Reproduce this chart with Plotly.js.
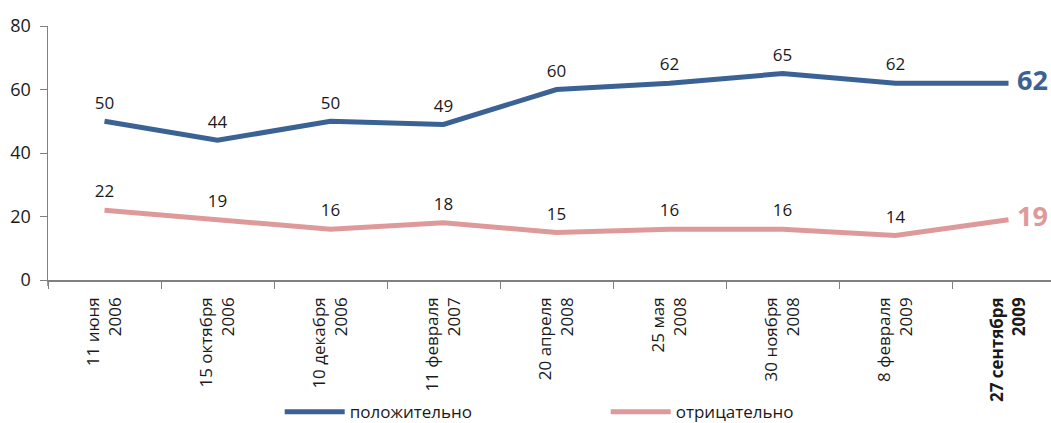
<!DOCTYPE html>
<html>
<head>
<meta charset="utf-8">
<script src="https://cdn.plot.ly/plotly-3.0.1.min.js"></script>
<style>html,body{margin:0;padding:0;background:#fff}#chart{width:1051px;height:423px}</style>
</head>
<body>
<div id="chart"></div>
<script>
var categories = ['11 июня<br>2006', '15 октября<br>2006', '10 декабря<br>2006', '11 февраля<br>2007', '20 апреля<br>2008', '25 мая<br>2008', '30 ноября<br>2008', '8 февраля<br>2009', '<b>27 сентября</b><br><b>2009</b>'];
var positive = [50, 44, 50, 49, 60, 62, 65, 62, 62];
var negative = [22, 19, 16, 18, 15, 16, 16, 14, 19];
var seriesNames = ['положительно', 'отрицательно'];
var yTicks = [0, 20, 40, 60, 80];

var BLUE = '#3a6295', PINK = '#de9a9a';
var FONT = 'Open Sans, sans-serif';

function labels(vals) {
  return vals.map(function (v, i) { return i === vals.length - 1 ? '<b>' + v + '</b>' : String(v); });
}
function positions(vals) {
  return vals.map(function (v, i) { return i === vals.length - 1 ? 'middle right' : 'top center'; });
}
function sizes(vals) {
  return vals.map(function (v, i) { return i === vals.length - 1 ? 27 : 17; });
}
function colors(vals, c) {
  return vals.map(function (v, i) { return i === vals.length - 1 ? c : '#1a1a1a'; });
}
function trace(vals, name, color) {
  return {
    x: categories, y: vals, name: name, type: 'scatter', mode: 'lines+markers+text',
    line: {color: color, width: 5},
    marker: {size: 12, color: 'rgba(0,0,0,0)'},
    text: labels(vals), textposition: positions(vals),
    textfont: {family: FONT, size: sizes(vals), color: colors(vals, color)},
    cliponaxis: false, hoverinfo: 'none'
  };
}

var data = [trace(positive, seriesNames[0], BLUE), trace(negative, seriesNames[1], PINK)];

var layout = {
  width: 1051, height: 423,
  margin: {l: 48, r: 0, t: 26, b: 143, autoexpand: false},
  paper_bgcolor: '#fff', plot_bgcolor: '#fff',
  font: {family: FONT, size: 17, color: '#1a1a1a'},
  showlegend: true,
  legend: {orientation: 'h', x: 0.231, xanchor: 'left', y: -0.52, yanchor: 'middle',
    bgcolor: 'rgba(0,0,0,0)',
    entrywidth: 251, entrywidthmode: 'pixels', itemwidth: 60, font: {size: 17, family: FONT}},
  xaxis: {type: 'category', range: [-0.5, 8.376], showline: true, linecolor: '#808080', linewidth: 1.5,
    ticks: 'outside', tickson: 'boundaries', ticklen: 7, tickcolor: '#808080', tickwidth: 1,
    tickangle: -90, showgrid: false, zeroline: false, ticklabelstandoff: 9,
    tickfont: {size: 17, family: FONT, color: '#1a1a1a'}},
  yaxis: {range: [0, 80], tickvals: yTicks, showline: true, linecolor: '#808080', linewidth: 1.5,
    ticks: 'outside', ticklen: 7, tickcolor: '#808080', tickwidth: 1, showgrid: false, zeroline: false,
    ticklabelstandoff: 5, tickfont: {size: 18, family: FONT, color: '#1a1a1a'}},
  shapes: [{type: 'line', xref: 'paper', yref: 'paper', x0: 0, x1: 0, y0: 0, y1: -0.024,
    line: {color: '#808080', width: 1.5}}]
};

Plotly.newPlot('chart', data, layout, {displayModeBar: false, staticPlot: true});
</script>
</body>
</html>
